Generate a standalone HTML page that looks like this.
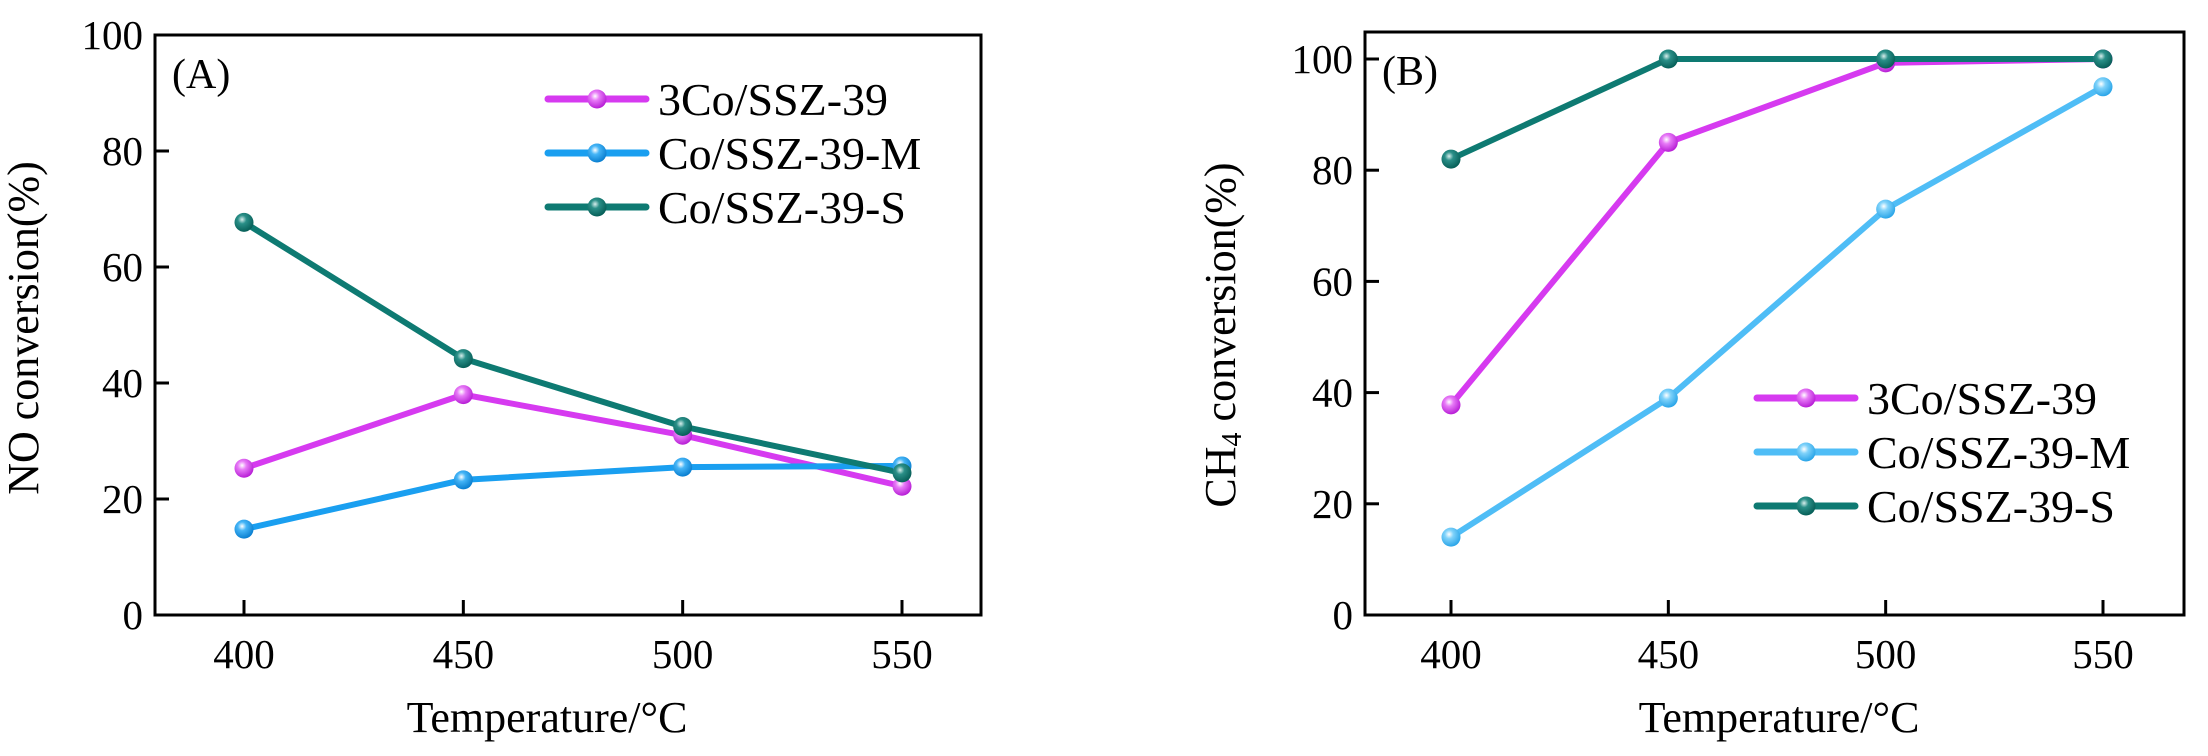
<!DOCTYPE html>
<html><head><meta charset="utf-8"><style>
html,body{margin:0;padding:0;background:#fff;}
svg{display:block;font-family:"Liberation Serif",serif;}
</style></head><body>
<svg id="chart" width="2208" height="756" viewBox="0 0 2208 756" xmlns="http://www.w3.org/2000/svg">
<defs>
<radialGradient id="gm" cx="40%" cy="35%" r="65%"><stop offset="0" stop-color="#fff"/><stop offset="0.35" stop-color="#e77af7"/><stop offset="1" stop-color="#b81fd6"/></radialGradient>
<radialGradient id="gb" cx="40%" cy="35%" r="65%"><stop offset="0" stop-color="#fff"/><stop offset="0.35" stop-color="#45b5f7"/><stop offset="1" stop-color="#0a7fd0"/></radialGradient>
<radialGradient id="gl" cx="40%" cy="35%" r="65%"><stop offset="0" stop-color="#fff"/><stop offset="0.35" stop-color="#7fd2fa"/><stop offset="1" stop-color="#2aa5e8"/></radialGradient>
<radialGradient id="gg" cx="40%" cy="35%" r="65%"><stop offset="0" stop-color="#d8eeec"/><stop offset="0.35" stop-color="#2a8f88"/><stop offset="1" stop-color="#075f58"/></radialGradient>
</defs>
</svg>
<script>
const categories = [400, 450, 500, 550];
const yTicksA = [0, 20, 40, 60, 80, 100];
const yTicksB = [0, 20, 40, 60, 80, 100];
const seriesNames = ["3Co/SSZ-39", "Co/SSZ-39-M", "Co/SSZ-39-S"];
const noMag = [25.3, 38.0, 31.0, 22.2];
const noBlue = [14.8, 23.3, 25.5, 25.7];
const noGreen = [67.7, 44.2, 32.5, 24.5];
const chMag = [37.8, 85.0, 99.3, 100];
const chBlue = [14.0, 39.0, 73.0, 95.0];
const chGreen = [82.0, 100, 100, 100];

const svg = document.getElementById('chart');
const NS = 'http://www.w3.org/2000/svg';
function mk(tag, attrs, parent){
  const e = document.createElementNS(NS, tag);
  for (const k in attrs) e.setAttribute(k, attrs[k]);
  (parent||svg).appendChild(e);
  return e;
}
function panel(cfg){
  const g = mk('g', {});
  
  
  const xs = v => cfg.x400 + (v - 400) / 150 * (cfg.x550 - cfg.x400);
  const ys = v => cfg.y0 - v / 100 * (cfg.y0 - cfg.y100);
  const frame = mk('rect', {x:cfg.L, y:cfg.T, width:cfg.R-cfg.L, height:cfg.B-cfg.T, fill:'none', stroke:'#000', 'stroke-width':3}, g);
  
  
  cfg.yt.forEach(t => {
    const y = ys(t);
    if (t > 0) { const tk = mk('line', {x1:cfg.L, x2:cfg.L+14, y1:y, y2:y, stroke:'#000','stroke-width':3}, g);
        }
    const tx = mk('text', {x:cfg.L-12, y:y+14, 'font-size':41, 'text-anchor':'end'}, g);
    tx.textContent = t;
    
    
  });
  categories.forEach(c => {
    const x = xs(c);
    const tk = mk('line', {x1:x, x2:x, y1:cfg.B, y2:cfg.B-15, stroke:'#000','stroke-width':3}, g);
     
    const tx = mk('text', {x:x, y:cfg.B+53, 'font-size':41, 'text-anchor':'middle'}, g);
    tx.textContent = c;
    
    
  });
  const xt = mk('text', {x:cfg.xtx, y:732, 'font-size':44, 'text-anchor':'middle'}, g);
  xt.textContent = 'Temperature/°C';
  
  
  const yt = mk('text', {x:0, y:0, 'font-size':44, 'text-anchor':'middle', transform:`translate(${cfg.ytx},${cfg.yty}) rotate(-90)`}, g);
  yt.innerHTML = cfg.ytitle;
  
  
  const pl = mk('text', {x:cfg.plx, y:cfg.ply, 'font-size':42}, g);
  pl.textContent = cfg.label;
  
  
  cfg.series.forEach((s, i) => {
    const pts = s.vals.map((v, j) => xs(categories[j]) + ',' + ys(v)).join(' ');
    const line = mk('polyline', {points:pts, fill:'none', stroke:s.color, 'stroke-width':6, 'stroke-linejoin':'round'}, g);
    
    
  });
  cfg.series.forEach((s, i) => {
    s.vals.forEach((v, j) => {
      const c = mk('circle', {cx:xs(categories[j]), cy:ys(v), r:9.5, fill:s.grad}, g);
      
      
    });
  });
  cfg.series.forEach((s, i) => {
    const y = cfg.legY + i * cfg.legDy;
    const lg = mk('g', {}, g);
    
    
    mk('line', {x1:cfg.legX, x2:cfg.legX+98, y1:y, y2:y, stroke:s.color, 'stroke-width':7, 'stroke-linecap':'round'}, lg);
    mk('circle', {cx:cfg.legX+49, cy:y, r:9.5, fill:s.grad}, lg);
    const t = mk('text', {x:cfg.legX+110, y:y+16, 'font-size':46}, lg);
    t.textContent = seriesNames[i];
  });
}
panel({name:'panel-a', L:155, R:981, T:35, B:615, x400:244, x550:902, y0:615, y100:35, yt:yTicksA,
  xtx:547, ytx:38, yty:328, ytitle:'NO conversion(%)', plx:172, ply:88, label:'(A)',
  legX:548, legY:99, legDy:54,
  series:[{vals:noMag,color:'#d63af0',grad:'url(#gm)'},{vals:noBlue,color:'#1a9ff0',grad:'url(#gb)'},{vals:noGreen,color:'#0e7a72',grad:'url(#gg)'}]});
panel({name:'panel-b', L:1365, R:2184, T:32, B:615, x400:1451, x550:2103, y0:615, y100:59, yt:yTicksB,
  xtx:1779, ytx:1235, yty:335, ytitle:'CH<tspan font-size="28" dy="6">4</tspan><tspan dy="-6"> conversion(%)</tspan>', plx:1382, ply:85, label:'(B)',
  legX:1757, legY:398, legDy:54,
  series:[{vals:chMag,color:'#d63af0',grad:'url(#gm)'},{vals:chBlue,color:'#4fbdf6',grad:'url(#gl)'},{vals:chGreen,color:'#0e7a72',grad:'url(#gg)'}]});
</script>
</body></html>
